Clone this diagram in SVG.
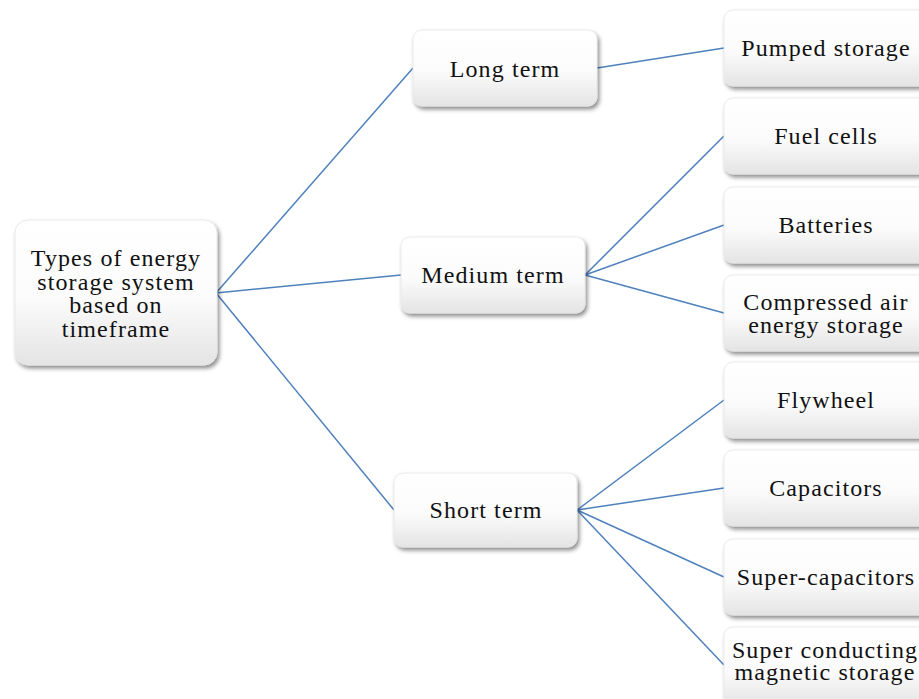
<svg xmlns="http://www.w3.org/2000/svg" width="919" height="699" viewBox="0 0 919 699">
  <defs>
    <linearGradient id="boxFill" x1="0" y1="0" x2="0" y2="1">
      <stop offset="0" stop-color="#ffffff"/>
      <stop offset="0.55" stop-color="#fbfbfb"/>
      <stop offset="1" stop-color="#e4e4e4"/>
    </linearGradient>
    <filter id="shadow" x="-10%" y="-10%" width="130%" height="140%">
      <feDropShadow dx="2" dy="3" stdDeviation="2" flood-color="#000" flood-opacity="0.45"/>
    </filter>
  </defs>
  <style>
    .box { fill: url(#boxFill); stroke: #e6e6e6; stroke-width: 0.8; filter: url(#shadow); }
    .lbl { font-family: "Liberation Serif", "Times New Roman", serif; font-size: 24px; fill: #111; text-anchor: middle; letter-spacing: 1.1px; }
    .link { stroke: #4f81bd; stroke-width: 1.5; fill: none; }
  </style>
  <rect width="919" height="699" fill="#ffffff"/>

  <!-- connectors -->
  <g id="connectors">
    <line class="link" x1="216" y1="293" x2="413" y2="68"/>
    <line class="link" x1="216" y1="293" x2="401" y2="275"/>
    <line class="link" x1="216" y1="293" x2="394" y2="510"/>
    <line class="link" x1="597" y1="68" x2="724" y2="48"/>
    <line class="link" x1="585" y1="275" x2="724" y2="136"/>
    <line class="link" x1="585" y1="275" x2="724" y2="225"/>
    <line class="link" x1="585" y1="275" x2="724" y2="313"/>
    <line class="link" x1="577" y1="510" x2="724" y2="400"/>
    <line class="link" x1="577" y1="510" x2="724" y2="488"/>
    <line class="link" x1="577" y1="510" x2="724" y2="577"/>
    <line class="link" x1="577" y1="510" x2="724" y2="665"/>
  </g>

  <!-- root -->
  <g id="root">
    <rect class="box" x="15" y="220" width="202" height="145" rx="13"/>
    <text class="lbl" x="116" y="266">Types of energy</text>
    <text class="lbl" x="116" y="290">storage system</text>
    <text class="lbl" x="116" y="313">based on</text>
    <text class="lbl" x="116" y="337">timeframe</text>
  </g>

  <!-- timeframe categories -->
  <g id="long-term">
    <rect class="box" x="413" y="30" width="184" height="76" rx="9"/>
    <text class="lbl" x="505" y="77">Long term</text>
  </g>
  <g id="medium-term">
    <rect class="box" x="401" y="237" width="184" height="76" rx="9"/>
    <text class="lbl" x="493" y="283">Medium term</text>
  </g>
  <g id="short-term">
    <rect class="box" x="394" y="473" width="183" height="74" rx="9"/>
    <text class="lbl" x="486" y="518">Short term</text>
  </g>

  <!-- technologies -->
  <g id="pumped-storage">
    <rect class="box" x="724" y="10" width="210" height="76" rx="9"/>
    <text class="lbl" x="826" y="56">Pumped storage</text>
  </g>
  <g id="fuel-cells">
    <rect class="box" x="724" y="98" width="210" height="76" rx="9"/>
    <text class="lbl" x="826" y="144">Fuel cells</text>
  </g>
  <g id="batteries">
    <rect class="box" x="724" y="187" width="210" height="76" rx="9"/>
    <text class="lbl" x="826" y="233">Batteries</text>
  </g>
  <g id="compressed-air">
    <rect class="box" x="724" y="275" width="210" height="76" rx="9"/>
    <text class="lbl" x="826" y="310">Compressed air</text>
    <text class="lbl" x="826" y="333">energy storage</text>
  </g>
  <g id="flywheel">
    <rect class="box" x="724" y="362" width="210" height="76" rx="9"/>
    <text class="lbl" x="826" y="408">Flywheel</text>
  </g>
  <g id="capacitors">
    <rect class="box" x="724" y="450" width="210" height="76" rx="9"/>
    <text class="lbl" x="826" y="496">Capacitors</text>
  </g>
  <g id="super-capacitors">
    <rect class="box" x="724" y="539" width="210" height="76" rx="9"/>
    <text class="lbl" x="826" y="585">Super-capacitors</text>
  </g>
  <g id="smes">
    <rect class="box" x="724" y="627" width="210" height="80" rx="9"/>
    <text class="lbl" x="825" y="658">Super conducting</text>
    <text class="lbl" x="825" y="680">magnetic storage</text>
  </g>
</svg>
